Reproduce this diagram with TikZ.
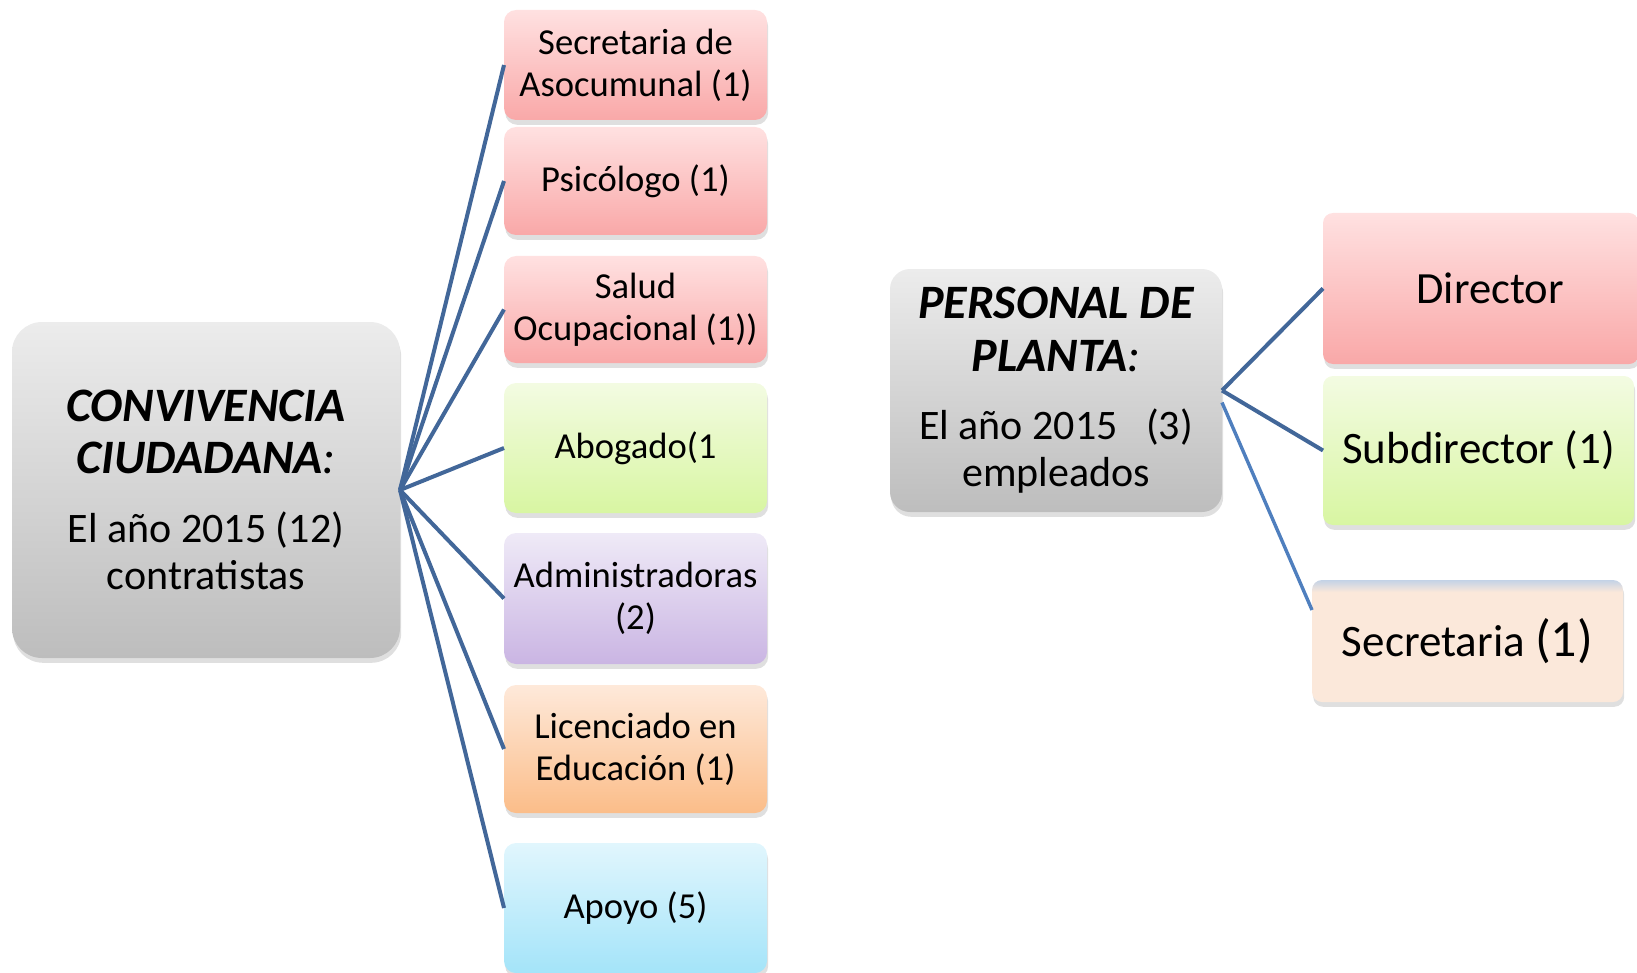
\documentclass[tikz,border=0pt]{standalone}
\usepackage{fontspec}
\setmainfont{Carlito}
\usepackage{tikz}
\usetikzlibrary{shadows}

\definecolor{azul}{HTML}{426799}
\definecolor{azulclaro}{HTML}{4F7FBE}
\definecolor{grisA}{HTML}{ECECEC}
\definecolor{grisB}{HTML}{BDBDBD}
\definecolor{rosaA}{HTML}{FFE1E1}
\definecolor{rosaB}{HTML}{F9A8A8}
\definecolor{verdeA}{HTML}{F3FBE2}
\definecolor{verdeB}{HTML}{D8F6A2}
\definecolor{moradoA}{HTML}{EFEAF7}
\definecolor{moradoB}{HTML}{CAB5E3}
\definecolor{naranjaA}{HTML}{FEE9DA}
\definecolor{naranjaB}{HTML}{FBBD89}
\definecolor{celesteA}{HTML}{E1F6FD}
\definecolor{celesteB}{HTML}{A4E4F9}
\definecolor{durazno}{HTML}{FBE8DA}
\definecolor{bandaazul}{HTML}{C3D2E6}

\pgfdeclareverticalshading{secshade}{100bp}{color(0bp)=(durazno); color(70bp)=(durazno); color(75bp)=(bandaazul); color(100bp)=(bandaazul)}

\newcommand{\titulo}[1]{{\fontsize{24}{26}\selectfont\bfseries\itshape #1}}
\newcommand{\dospuntos}{{\fontsize{24}{26}\selectfont\itshape :}}

\tikzset{
	caja/.style={rectangle, rounded corners=6pt, align=center, inner sep=2pt, outer sep=0pt, text=black,
		drop shadow={shadow xshift=0.6pt, shadow yshift=-2.4pt, opacity=0.25}},
	gris/.style={caja, top color=grisA, bottom color=grisB},
	rosa/.style={caja, top color=rosaA, bottom color=rosaB},
	verde/.style={caja, top color=verdeA, bottom color=verdeB},
	morado/.style={caja, top color=moradoA, bottom color=moradoB},
	naranja/.style={caja, top color=naranjaA, bottom color=naranjaB},
	celeste/.style={caja, top color=celesteA, bottom color=celesteB},
	cargo/.style={minimum width=131.5pt, font=\fontsize{18.3}{21}\selectfont},
	linea/.style={azul, line width=2pt},
}

\begin{document}
\begin{tikzpicture}[x=0.5pt, y=-0.5pt]
	\useasboundingbox (0,0) rectangle (1637,973);
	
	%Convivencia ciudadana
	\node[gris, rounded corners=15pt, minimum width=194pt, minimum height=168pt, font=\fontsize{21}{23.5}\selectfont] (cc) at (206,490)
		{\titulo{CONVIVENCIA}\\[2.5pt] \titulo{CIUDADANA}\dospuntos\\[11pt] El año 2015 (12)\\ contratistas};
	
	\node[rosa, cargo, minimum height=55pt] (secre) at (635.5,65) {Secretaria de\\ Asocumunal (1)};
	\node[rosa, cargo, minimum height=54pt] (psico) at (635.5,181) {Psicólogo (1)};
	\node[rosa, cargo, minimum height=53.5pt] (salud) at (635.5,309.5) {Salud\\ Ocupacional (1))};
	\node[verde, cargo, minimum height=65pt] (abog) at (635.5,448) {Abogado(1};
	\node[morado, cargo, minimum height=65.5pt] (admin) at (635.5,598.5) {Administradoras\\ (2)};
	\node[naranja, cargo, minimum height=64pt] (lic) at (635.5,749) {Licenciado en\\ Educación (1)};
	\node[celeste, cargo, minimum height=65pt] (apoyo) at (635.5,908) {Apoyo (5)};
	
	\foreach \n in {secre,psico,salud,abog,admin,lic,apoyo}
		\draw[linea] (cc.east) -- (\n.west);
	
	%Personal de planta
	\node[gris, rounded corners=10pt, minimum width=166pt, minimum height=121.5pt, font=\fontsize{21}{23.5}\selectfont] (pp) at (1056,390.5)
		{\titulo{PERSONAL DE}\\[3pt] \titulo{PLANTA}\dospuntos\\[10.5pt] El año 2015\ \ \ (3)\\ empleados};
	
	\node[rosa, rounded corners=5pt, minimum width=158pt, minimum height=75.5pt, font=\fontsize{22.3}{25}\selectfont] (dir) at (1481,288.5) {\hspace{9pt}Director};
	\node[verde, rounded corners=5pt, minimum width=155.5pt, minimum height=74.5pt, font=\fontsize{22.5}{25}\selectfont] (sub) at (1478.5,450.5) {Subdirector (1)};
	\node[caja, shading=secshade, rounded corners=5pt, minimum width=155.5pt, minimum height=61pt, font=\fontsize{22.5}{25}\selectfont] (secr) at (1467.5,641)
		{Secretaria {\fontsize{26}{28}\selectfont (1)}};
	
	\draw[linea] (pp.east) -- (dir.west);
	\draw[linea] (pp.east) -- (sub.west);
	\draw[azulclaro, line width=1.7pt] ([yshift=-6pt]pp.east) -- ([yshift=15.5pt]secr.west);
\end{tikzpicture}
\end{document}
